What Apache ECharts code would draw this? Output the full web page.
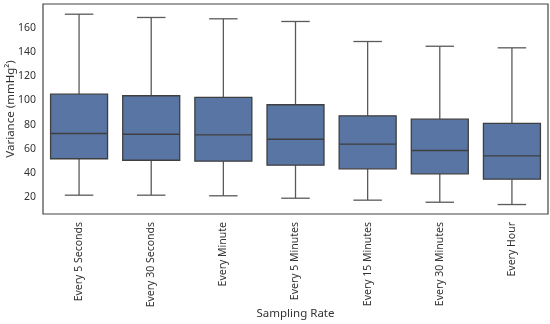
<!DOCTYPE html>
<html><head><meta charset="utf-8">
<script src="https://cdn.jsdelivr.net/npm/echarts@6/dist/echarts.min.js"></script>
<style>html,body{margin:0;padding:0;background:#fff}#c{width:550px;height:324px}</style>
</head><body><div id="c"></div>
<script>
const categories = ["Every 5 Seconds","Every 30 Seconds","Every Minute","Every 5 Minutes","Every 15 Minutes","Every 30 Minutes","Every Hour"];
const whiskerLow = [21.9, 21.9, 21.4, 19.4, 17.8, 16.1, 14.2];
const q1 = [51.9, 50.7, 49.9, 46.6, 43.6, 39.5, 35.1];
const median = [72.7, 72.1, 71.6, 68.0, 63.9, 58.7, 54.3];
const q3 = [105.1, 103.8, 102.4, 96.4, 87.3, 84.5, 81.0];
const whiskerHigh = [171.0, 168.3, 167.2, 165.0, 148.5, 144.6, 143.3];
const yTicks = [20, 40, 60, 80, 100, 120, 140, 160];

const data = categories.map((c, i) => [i, whiskerLow[i], q1[i], median[i], q3[i], whiskerHigh[i]]);
const chart = echarts.init(document.getElementById('c'), null, {renderer: 'canvas'});
const fill = '#5975a4', edge = '#3f3f3f', whisk = '#5a5a5a';
chart.setOption({
  animation: false,
  textStyle: {fontFamily: 'Noto Sans'},
  grid: {left: 43, right: 2, top: 4, bottom: 110, show: true, borderColor: '#444', borderWidth: 1.2,
         containLabel: false, outerBoundsMode: 'none'},
  xAxis: {
    type: 'category', data: categories,
    axisLine: {show: false}, axisTick: {show: false}, splitLine: {show: false},
    axisLabel: {rotate: 90, fontSize: 10.5, color: '#333', margin: 8, interval: 0},
    name: 'Sampling Rate', nameLocation: 'middle', nameGap: 94, nameMoveOverlap: false,
    nameTextStyle: {fontSize: 11.5, color: '#333'}
  },
  yAxis: {
    type: 'value', min: 6.4, max: 179.4,
    axisLine: {show: false}, axisTick: {show: false}, splitLine: {show: false},
    axisLabel: {customValues: yTicks, fontSize: 10.5, color: '#333', margin: 7},
    name: 'Variance (mmHg²)', nameLocation: 'middle', nameGap: 26, nameMoveOverlap: false,
    nameTextStyle: {fontSize: 11.5, color: '#333'}
  },
  series: [{
    type: 'custom',
    data: data,
    encode: {x: 0, y: [1,2,3,4,5]},
    renderItem: function (params, api) {
      const idx = api.value(0);
      const band = api.size([1, 0])[0];
      const bw = band * 0.79, cw = bw / 2;
      const pLo = api.coord([idx, api.value(1)]);
      const pQ1 = api.coord([idx, api.value(2)]);
      const pMed = api.coord([idx, api.value(3)]);
      const pQ3 = api.coord([idx, api.value(4)]);
      const pHi = api.coord([idx, api.value(5)]);
      const x = pQ1[0];
      const ls = {stroke: whisk, lineWidth: 1.3};
      return {type: 'group', children: [
        {type: 'line', shape: {x1: x, y1: pQ3[1], x2: x, y2: pHi[1]}, style: ls},
        {type: 'line', shape: {x1: x, y1: pQ1[1], x2: x, y2: pLo[1]}, style: ls},
        {type: 'line', shape: {x1: x - cw/2, y1: pHi[1], x2: x + cw/2, y2: pHi[1]}, style: ls},
        {type: 'line', shape: {x1: x - cw/2, y1: pLo[1], x2: x + cw/2, y2: pLo[1]}, style: ls},
        {type: 'rect', shape: {x: x - bw/2, y: pQ3[1], width: bw, height: pQ1[1] - pQ3[1]}, style: {fill: fill, stroke: edge, lineWidth: 1.3}},
        {type: 'line', shape: {x1: x - bw/2, y1: pMed[1], x2: x + bw/2, y2: pMed[1]}, style: {stroke: edge, lineWidth: 1.3}}
      ]};
    }
  }]
});
</script></body></html>
